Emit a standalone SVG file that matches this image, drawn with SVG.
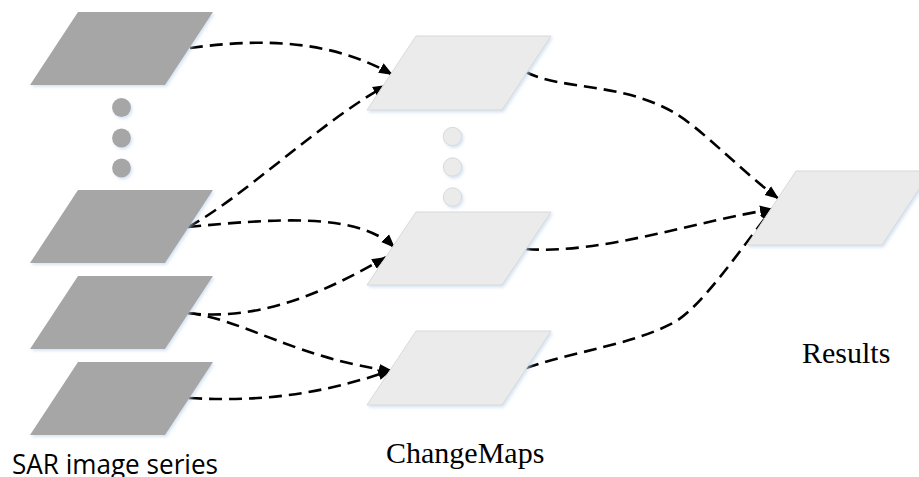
<svg xmlns="http://www.w3.org/2000/svg" width="919" height="477" viewBox="0 0 919 477">
  <style>
    .sar { fill: #a6a6a6; filter: url(#soft); }
    .map { fill: #ebebeb; stroke: #d9d9d9; stroke-width: 1; filter: url(#soft); }
    .link { fill: none; stroke: #000; stroke-width: 2.6; stroke-dasharray: 13 7; marker-end: url(#arrow); }
    .serif { font-family: "Liberation Serif", "Times New Roman", serif; font-size: 30px; fill: #000; }
    .sans { font-family: "Open Sans", "Liberation Sans", sans-serif; font-size: 27px; fill: #000; }
  </style>
  <defs>
    <filter id="soft" x="-10%" y="-10%" width="130%" height="140%">
      <feDropShadow dx="1.5" dy="2" stdDeviation="1.5" flood-color="#bcd3ec" flood-opacity="0.6"/>
    </filter>
    <marker id="arrow" markerUnits="userSpaceOnUse" markerWidth="15" markerHeight="12" refX="14" refY="6" orient="auto">
      <path d="M0,0.5 L14,6 L0,11.5 Z" fill="#000"/>
    </marker>
  </defs>

  <!-- dashed connectors, drawn below the shapes -->
  <g id="connectors">
    <path class="link" d="M190,48 C250,40 325,36 393,75"/>
    <path class="link" d="M188,227 C240,200 320,122 387,85"/>
    <path class="link" d="M188,227 C280,218 360,213 395,248"/>
    <path class="link" d="M188,313 C260,322 330,290 386,257"/>
    <path class="link" d="M188,313 C240,318 300,360 393,371"/>
    <path class="link" d="M189,398 C260,402 320,395 392,370"/>
    <path class="link" d="M526,72 C560,90 620,82 673,112 C700,127 740,170 779,199"/>
    <path class="link" d="M526,249 C600,255 700,220 774,209"/>
    <path class="link" d="M526,368 C580,350 630,345 673,323 C700,309 740,250 773,208"/>
  </g>

  <!-- SAR image series -->
  <g id="sar-1"><polygon class="sar" points="78,12 213,12 165,85 30,85"/></g>
  <g id="sar-dots">
    <circle cx="121.5" cy="107.5" r="9.4" fill="#a6a6a6" filter="url(#soft)"/>
    <circle cx="121.5" cy="138" r="9.4" fill="#a6a6a6" filter="url(#soft)"/>
    <circle cx="121.5" cy="168" r="9.4" fill="#a6a6a6" filter="url(#soft)"/>
  </g>
  <g id="sar-2"><polygon class="sar" points="78,190 213,190 165,263 30,263"/></g>
  <g id="sar-3"><polygon class="sar" points="78,276 213,276 165,349 30,349"/></g>
  <g id="sar-4"><polygon class="sar" points="78,362 213,362 165,435 30,435"/></g>

  <!-- change maps -->
  <g id="map-1"><polygon class="map" points="416,36 551,36 502,110 367,110"/></g>
  <g id="map-dots">
    <circle cx="452.5" cy="136.5" r="9.2" fill="#ebebeb" stroke="#d9d9d9" filter="url(#soft)"/>
    <circle cx="452.5" cy="167" r="9.2" fill="#ebebeb" stroke="#d9d9d9" filter="url(#soft)"/>
    <circle cx="452.5" cy="197" r="9.2" fill="#ebebeb" stroke="#d9d9d9" filter="url(#soft)"/>
  </g>
  <g id="map-2"><polygon class="map" points="416,212 551,212 502,285 367,285"/></g>
  <g id="map-3"><polygon class="map" points="416,331 551,331 502,405 367,405"/></g>

  <!-- result -->
  <g id="result"><polygon class="map" points="796,171 931,171 882,245 747,245"/></g>

  <!-- labels -->
  <text class="sans" x="12" y="474" textLength="206" lengthAdjust="spacingAndGlyphs">SAR image series</text>
  <text class="serif" x="386" y="463">ChangeMaps</text>
  <text class="serif" x="802" y="363">Results</text>
</svg>
